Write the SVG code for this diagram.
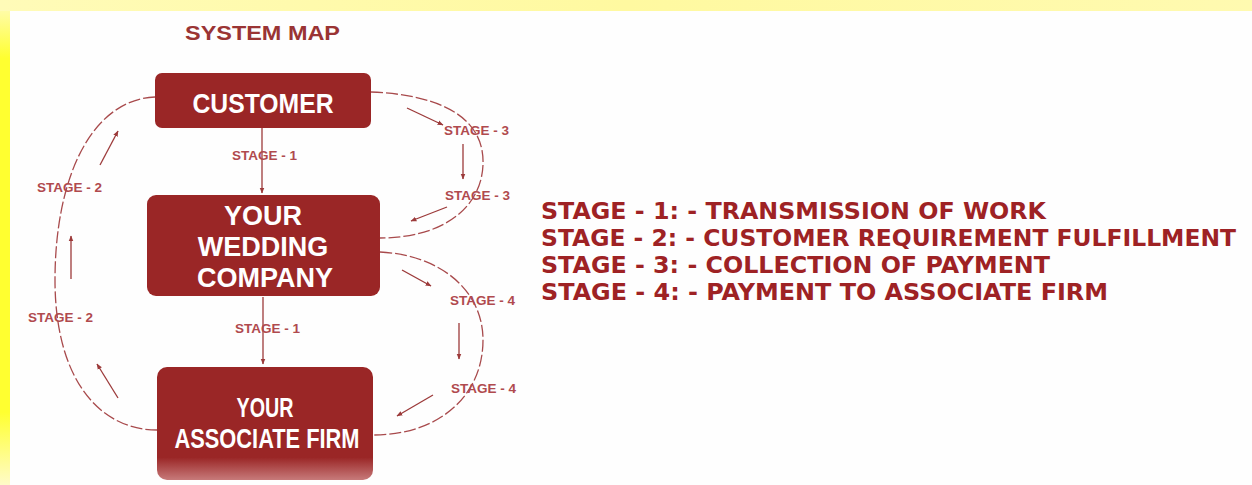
<svg xmlns="http://www.w3.org/2000/svg" width="1252" height="485" viewBox="0 0 1252 485">
<defs>
<linearGradient id="bgY" x1="0" y1="0" x2="0" y2="1">
<stop offset="0" stop-color="#fffbc2"/>
<stop offset="0.12" stop-color="#ffff30"/>
<stop offset="0.85" stop-color="#ffff30"/>
<stop offset="1" stop-color="#fffbc8"/>
</linearGradient>
<linearGradient id="topY" x1="0" y1="0" x2="1" y2="0">
<stop offset="0" stop-color="#fffbb8"/>
<stop offset="0.5" stop-color="#fff9a0"/>
<stop offset="1" stop-color="#fffab0"/>
</linearGradient>
<linearGradient id="fade" x1="0" y1="0" x2="0" y2="1">
<stop offset="0" stop-color="#9a2626"/>
<stop offset="0.8" stop-color="#9a2626"/>
<stop offset="1" stop-color="#c77a7a"/>
</linearGradient>
<marker id="ah" viewBox="0 0 10 10" refX="9" refY="5" markerWidth="6" markerHeight="6" orient="auto" markerUnits="userSpaceOnUse">
<path d="M0,1 L10,5 L0,9 z" fill="#9c3a3a"/>
</marker>
<style>
.box{fill:#9a2626;}
.nt{font-family:"Liberation Sans",Arial,sans-serif;font-weight:bold;fill:#ffffff;text-anchor:middle;}
.lbl{font-family:"Liberation Sans",Arial,sans-serif;font-weight:bold;font-size:13.5px;fill:#b04a4e;}
.loop{fill:none;stroke:#a84a4c;stroke-width:1.3;stroke-dasharray:12 3;}
.arr{fill:none;stroke:#9c3a3a;stroke-width:1.3;marker-end:url(#ah);}
.leg{font-family:"DejaVu Sans",Verdana,sans-serif;font-weight:bold;font-size:22.5px;fill:#9e2224;}
</style>
</defs>
<rect x="0" y="0" width="1252" height="485" fill="url(#bgY)"/>
<rect x="0" y="0" width="1252" height="11" fill="url(#topY)"/>
<rect x="10" y="11" width="1242" height="474" fill="#fefefe"/>

<text x="185" y="40" font-family="Liberation Sans, Arial, sans-serif" font-weight="bold" font-size="20" fill="#9a3434" textLength="155" lengthAdjust="spacingAndGlyphs">SYSTEM MAP</text>

<g id="connectors">
<path class="loop" d="M155,97 C90,100 55,180 55,280 C55,380 100,430 157,430"/>
<path class="loop" d="M371,92 C445,95 485,120 483,165 C481,210 440,238 380,238"/>
<path class="loop" d="M380,252 C440,255 483,290 483,340 C483,395 440,435 373,435"/>
<line class="arr" x1="262" y1="128" x2="262" y2="193"/>
<line class="arr" x1="263" y1="297" x2="263" y2="364"/>
<line class="arr" x1="118" y1="398" x2="97" y2="364"/>
<line class="arr" x1="71" y1="279" x2="71" y2="236"/>
<line class="arr" x1="100" y1="165" x2="118" y2="131"/>
<line class="arr" x1="407" y1="108" x2="443" y2="125"/>
<line class="arr" x1="463" y1="144" x2="463" y2="179"/>
<line class="arr" x1="447" y1="207" x2="411" y2="221"/>
<line class="arr" x1="402" y1="270" x2="431" y2="286"/>
<line class="arr" x1="459" y1="323" x2="459" y2="359"/>
<line class="arr" x1="433" y1="395" x2="397" y2="416"/>
<text class="lbl" x="232" y="160">STAGE - 1</text>
<text class="lbl" x="235" y="333">STAGE - 1</text>
<text class="lbl" x="37" y="192">STAGE - 2</text>
<text class="lbl" x="28" y="322">STAGE - 2</text>
<text class="lbl" x="444" y="135">STAGE - 3</text>
<text class="lbl" x="445" y="200">STAGE - 3</text>
<text class="lbl" x="450" y="305">STAGE - 4</text>
<text class="lbl" x="451" y="393">STAGE - 4</text>
</g>

<g id="customer">
<rect class="box" x="155" y="73" width="216" height="55" rx="7"/>
<text class="nt" x="263" y="113" font-size="28" textLength="141" lengthAdjust="spacingAndGlyphs">CUSTOMER</text>
</g>

<g id="wedding-company">
<rect class="box" x="147" y="195" width="233" height="101" rx="9"/>
<text class="nt" x="263" y="225" font-size="27">YOUR</text>
<text class="nt" x="263" y="256" font-size="27">WEDDING</text>
<text class="nt" x="265" y="287" font-size="27">COMPANY</text>
</g>

<g id="associate-firm">
<rect x="157" y="367" width="216" height="113" rx="10" fill="url(#fade)"/>
<text class="nt" x="265" y="417" font-size="27" textLength="57" lengthAdjust="spacingAndGlyphs">YOUR</text>
<text class="nt" x="267" y="448" font-size="28" textLength="185" lengthAdjust="spacingAndGlyphs">ASSOCIATE FIRM</text>
</g>

<g id="legend">
<text class="leg" x="541" y="219" textLength="505" lengthAdjust="spacingAndGlyphs">STAGE - 1: - TRANSMISSION OF WORK</text>
<text class="leg" x="541" y="246" textLength="695" lengthAdjust="spacingAndGlyphs">STAGE - 2: - CUSTOMER REQUIREMENT FULFILLMENT</text>
<text class="leg" x="541" y="273" textLength="509" lengthAdjust="spacingAndGlyphs">STAGE - 3: - COLLECTION OF PAYMENT</text>
<text class="leg" x="541" y="300" textLength="567" lengthAdjust="spacingAndGlyphs">STAGE - 4: - PAYMENT TO ASSOCIATE FIRM</text>
</g>
</svg>
